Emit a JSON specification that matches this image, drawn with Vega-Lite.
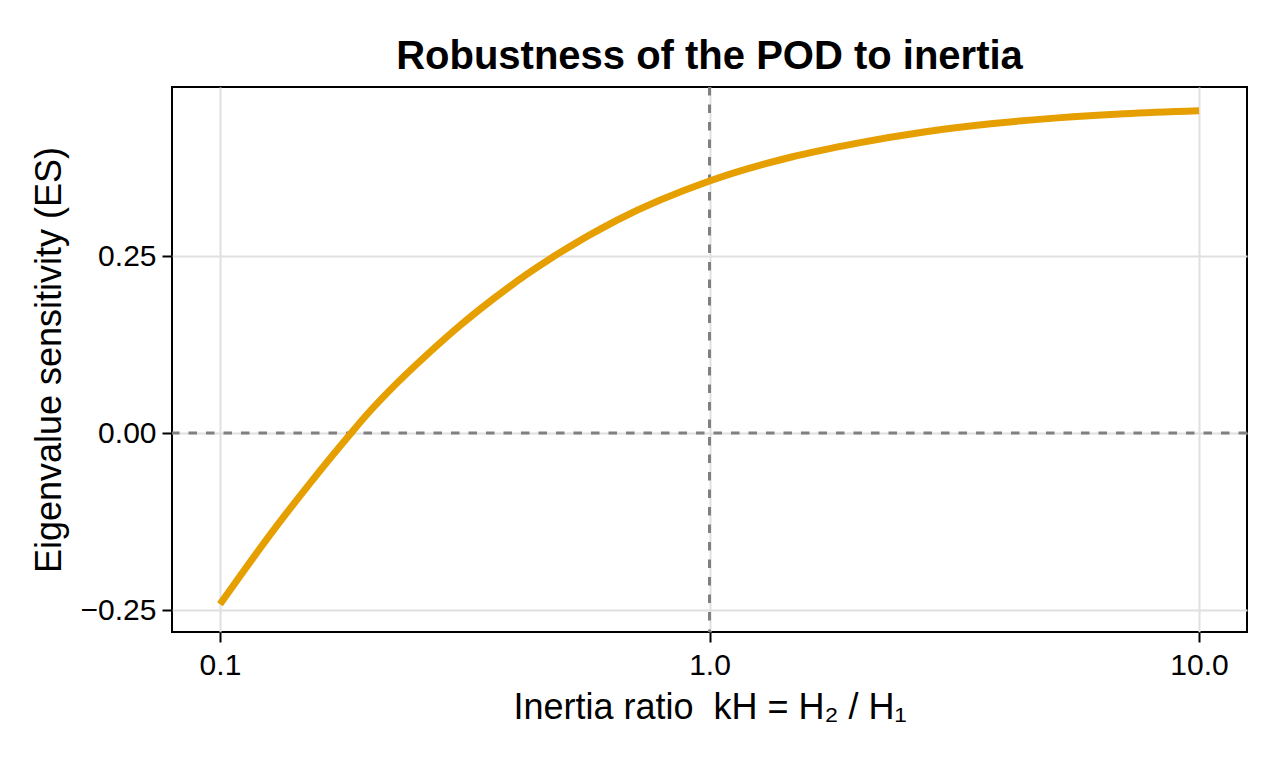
{
  "$schema": "https://vega.github.io/schema/vega-lite/v6.json",
  "width": 1075,
  "height": 545,
  "autosize": {"type": "none"},
  "padding": {"left": 172, "top": 87, "right": 33, "bottom": 128},
  "background": "white",
  "config": {
    "font": "Liberation Sans",
    "view": {"stroke": "black", "strokeWidth": 2}
  },
  "title": {
    "text": "Robustness of the POD to inertia",
    "fontSize": 40,
    "fontWeight": "bold",
    "font": "Liberation Sans",
    "color": "black",
    "anchor": "middle",
    "offset": 9
  },
  "datasets": {
    "curve": [
      {"kH": 0.1, "ES": -0.2419},
      {"kH": 0.1116, "ES": -0.1955},
      {"kH": 0.1306, "ES": -0.1312},
      {"kH": 0.1528, "ES": -0.0707},
      {"kH": 0.183, "ES": -0.0045},
      {"kH": 0.2011, "ES": 0.0286},
      {"kH": 0.2227, "ES": 0.0609},
      {"kH": 0.2647, "ES": 0.1105},
      {"kH": 0.3095, "ES": 0.152},
      {"kH": 0.3622, "ES": 0.1898},
      {"kH": 0.4238, "ES": 0.2243},
      {"kH": 0.4804, "ES": 0.2493},
      {"kH": 0.6475, "ES": 0.3008},
      {"kH": 1.0, "ES": 0.3559},
      {"kH": 1.464, "ES": 0.3895},
      {"kH": 2.005, "ES": 0.4095},
      {"kH": 2.744, "ES": 0.4252},
      {"kH": 3.754, "ES": 0.4367},
      {"kH": 5.14, "ES": 0.4451},
      {"kH": 7.036, "ES": 0.451},
      {"kH": 10.0, "ES": 0.4552}
    ],
    "vref": [{"kH": 1.0}],
    "href": [{"ES": 0.0}]
  },
  "layer": [
    {
      "data": {"name": "curve"},
      "mark": {"type": "line", "opacity": 0},
      "encoding": {
        "x": {
          "field": "kH", "type": "quantitative",
          "scale": {"type": "log", "domain": [0.0798, 12.53], "nice": false},
          "axis": {
            "values": [0.1, 1, 10], "format": ".1f",
            "title": "Inertia ratio \u00a0kH = H₂ / H₁",
            "titleFontSize": 36, "titleFontWeight": "normal", "titleColor": "black", "titleFont": "Liberation Sans",
            "titlePadding": 10,
            "labelFontSize": 30, "labelColor": "black", "labelPadding": 8, "labelFont": "Liberation Sans",
            "tickSize": 10, "tickWidth": 2, "tickColor": "black",
            "domain": false,
            "grid": true, "gridColor": "#e0e0e0", "gridWidth": 2
          }
        },
        "y": {
          "field": "ES", "type": "quantitative",
          "scale": {"domain": [-0.281, 0.4887], "nice": false, "zero": false},
          "axis": {
            "values": [-0.25, 0, 0.25], "format": ".2f",
            "title": "Eigenvalue sensitivity (ES)",
            "titleFontSize": 36, "titleFontWeight": "normal", "titleColor": "black", "titleFont": "Liberation Sans",
            "titlePadding": 12,
            "labelFontSize": 30, "labelColor": "black", "labelPadding": 6, "labelFont": "Liberation Sans",
            "tickSize": 10, "tickWidth": 2, "tickColor": "black",
            "domain": false,
            "grid": true, "gridColor": "#e0e0e0", "gridWidth": 2
          }
        }
      }
    },
    {
      "data": {"name": "vref"},
      "mark": {"type": "rule", "color": "#808080", "strokeWidth": 3, "strokeDash": [8.5, 9]},
      "encoding": {"x": {"field": "kH", "type": "quantitative"}}
    },
    {
      "data": {"name": "href"},
      "mark": {"type": "rule", "color": "#808080", "strokeWidth": 3, "strokeDash": [8.5, 9]},
      "encoding": {"y": {"field": "ES", "type": "quantitative"}}
    },
    {
      "data": {"name": "curve"},
      "mark": {"type": "line", "color": "#E69F00", "strokeWidth": 7, "interpolate": "monotone", "strokeCap": "butt"},
      "encoding": {
        "x": {"field": "kH", "type": "quantitative"},
        "y": {"field": "ES", "type": "quantitative"}
      }
    }
  ]
}
